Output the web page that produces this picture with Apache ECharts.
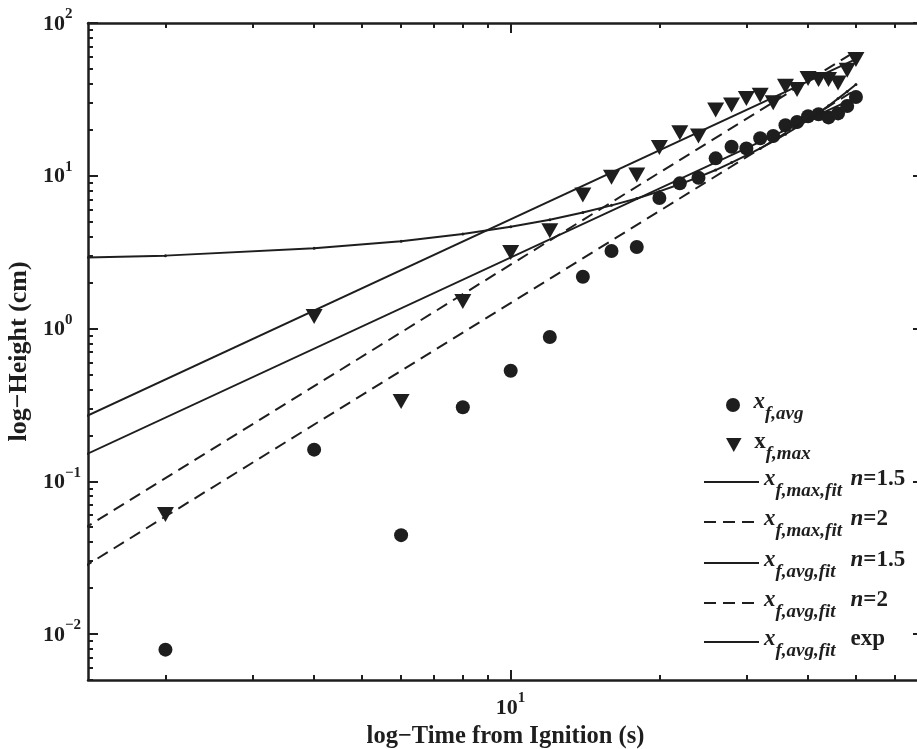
<!DOCTYPE html>
<html><head><meta charset="utf-8">
<script src="https://cdn.jsdelivr.net/npm/echarts@6/dist/echarts.min.js"></script>
<style>html,body{margin:0;padding:0;background:#fff}#c{width:917px;height:749px}</style>
</head><body><div id="c"></div>
<script>
// ---- data ----
const times = [2,4,6,8,10,12,14,16,18,20,22,24,26,28,30,32,34,36,38,40,42,44,46,48,50];
const avgHeight = [0.0079,0.161,0.0444,0.305,0.529,0.879,2.18,3.22,3.42,7.15,8.92,9.7,13.0,15.5,15.1,17.6,18.2,21.4,22.5,24.5,25.3,24.1,25.6,28.6,32.8];
const maxHeight = [0.0605,1.20,0.333,1.50,3.14,4.37,7.48,9.77,10.1,15.3,19.1,18.2,26.9,29.0,32.0,33.7,30.0,38.6,36.7,43.3,42.7,42.7,40.5,49.1,57.6];
const fitTimes = [1, 50];
const maxFit15 = [0.164, 58.0];
const maxFit2 = [0.0262, 65.5];
const avgFit15 = [0.0923, 32.6];
const avgFit2 = [0.0147, 36.7];
const expTimes = [1,2,4,6,8,10,12,14,16,18,20,22,24,26,28,30,32,34,36,38,40,42,44,46,48,50];
const expFit = [2.85,3.0,3.35,3.73,4.15,4.64,5.15,5.75,6.4,7.1,7.9,8.8,9.8,10.9,12.2,13.6,15.1,16.8,18.7,20.8,23.2,25.8,28.7,32.0,35.6,39.6];
const xMajorTicks = [10];
const xMinorTicks = [2,3,4,5,6,7,8,9,20,30,40,50,60];
const yMajorTicks = [0.01,0.1,1,10,100];
const yMinorTicks = [0.005,0.006,0.007,0.008,0.009,0.02,0.03,0.04,0.05,0.06,0.07,0.08,0.09,0.2,0.3,0.4,0.5,0.6,0.7,0.8,0.9,2,3,4,5,6,7,8,9,20,30,40,50,60,70,80,90];
const xTitle = 'log\u2212Time from Ignition (s)';
const yTitle = 'log\u2212Height (cm)';
const seriesNames = ['x_f,avg','x_f,max','x_f,max,fit n=1.5','x_f,max,fit n=2','x_f,avg,fit n=1.5','x_f,avg,fit n=2','x_f,avg,fit exp'];
const legendMain = ['x','x','x','x','x','x','x'];
const legendSub = ['f,avg','f,max','f,max,fit','f,max,fit','f,avg,fit','f,avg,fit','f,avg,fit'];
const legendN = ['','','n','n','n','n',''];
const legendVal = ['','','=1.5','=2','=1.5','=2','exp'];

// ---- style ----
const INK = '#1e1e1e';
const FONT = '"Liberation Serif","Times New Roman",serif';
const XMIN = 1.394, XMAX = 68.35, YMIN = 0.005, YMAX = 100;
const DASH = [12, 7];

function expLabel(v) {
  const e = Math.round(Math.log10(v));
  return '{b|10}{p|' + (e < 0 ? '\u2212' + (-e) : String(e)) + '}{sp| }';
}
const tickRich = {
  b: {fontFamily: FONT, fontWeight: 'bold', fontSize: 22, lineHeight: 22, verticalAlign: 'bottom', color: INK},
  p: {fontFamily: FONT, fontWeight: 'bold', fontSize: 15, lineHeight: 15, verticalAlign: 'top', color: INK},
  sp: {fontSize: 1, lineHeight: 28}
};
const frameLine = {show: true, onZero: false, lineStyle: {color: INK, width: 2.5}};
const noSplit = {show: false};
const blankLabel = (vals) => ({show: true, customValues: vals, formatter: () => '', margin: 0});

function xAx(grid, pos, ticks, len, withLine, withLabel) {
  const a = {
    type: 'log', logBase: 10, gridIndex: grid, position: pos, min: XMIN, max: XMAX,
    axisLine: withLine ? frameLine : {show: false},
    axisTick: {show: true, inside: true, length: len, customValues: ticks, lineStyle: {color: INK, width: 2}},
    axisLabel: withLabel ? {show: true, customValues: xMajorTicks, formatter: expLabel, rich: tickRich, margin: 11, padding: [0,0,4,0]} : blankLabel(ticks),
    splitLine: noSplit
  };
  if (withLabel) {
    a.name = xTitle; a.nameLocation = 'middle'; a.nameGap = 44;
    a.nameTextStyle = {fontFamily: FONT, fontWeight: 'bold', fontSize: 24.5, color: INK};
  }
  return a;
}
function yAx(grid, pos, ticks, len, withLine, withLabel) {
  const a = {
    type: 'log', logBase: 10, gridIndex: grid, position: pos, min: YMIN, max: YMAX,
    axisLine: withLine ? frameLine : {show: false},
    axisTick: {show: true, inside: true, length: len, customValues: ticks, lineStyle: {color: INK, width: 2}},
    axisLabel: withLabel ? {show: true, customValues: yMajorTicks, formatter: expLabel, rich: tickRich, margin: 45, align: 'left', padding: [0,0,4,0]} : blankLabel(ticks),
    splitLine: noSplit
  };
  if (withLabel) {
    a.name = yTitle; a.nameLocation = 'middle'; a.nameGap = 45;
    a.nameTextStyle = {fontFamily: FONT, fontWeight: 'bold', fontSize: 26, color: INK};
  }
  return a;
}

const gridRect = {left: 88, top: 23, width: 835, height: 657, containLabel: false, outerBoundsMode: 'none'};

const legendRich = {
  xi: {fontFamily: FONT, fontWeight: 'bold', fontStyle: 'italic', fontSize: 23, lineHeight: 23, verticalAlign: 'top', color: INK},
  xu: {fontFamily: FONT, fontWeight: 'bold', fontSize: 23, lineHeight: 23, verticalAlign: 'top', color: INK},
  s: {fontFamily: FONT, fontWeight: 'bold', fontStyle: 'italic', fontSize: 19, lineHeight: 19, verticalAlign: 'bottom', color: INK},
  sw: {fontFamily: FONT, fontWeight: 'bold', fontStyle: 'italic', fontSize: 19, lineHeight: 19, verticalAlign: 'bottom', width: 75, color: INK},
  ni: {fontFamily: FONT, fontWeight: 'bold', fontStyle: 'italic', fontSize: 23, lineHeight: 23, verticalAlign: 'top', color: INK},
  v: {fontFamily: FONT, fontWeight: 'bold', fontSize: 23, lineHeight: 23, verticalAlign: 'top', color: INK},
  sp: {fontSize: 1, lineHeight: 33}
};
function legendText(i) {
  const main = '{' + (i === 1 ? 'xu' : 'xi') + '|' + legendMain[i] + '}';
  const hasTail = legendVal[i] !== '';
  const sub = '{' + (hasTail ? 'sw' : 's') + '|' + legendSub[i] + '}';
  let tail = '';
  if (legendN[i]) tail += '{ni|' + legendN[i] + '}';
  if (legendVal[i]) tail += '{v|' + legendVal[i] + '}';
  return main + sub + tail + '{sp| }';
}
const legendCenters = [410, 450, 487, 527, 568, 608, 647];
const legends = seriesNames.map((nm, i) => {
  const isScatter = i < 2;
  const lg = {
    data: [nm], orient: 'vertical', left: isScatter ? 726 : 703, top: legendCenters[i] - 19, padding: 0,
    itemWidth: isScatter ? 31 : 55, itemHeight: 14, selectedMode: false,
    formatter: () => legendText(i),
    textStyle: {rich: legendRich, padding: [5, 0, 0, 0]}
  };
  if (!isScatter) lg.itemStyle = {opacity: 0};
  return lg;
});

const lineSeries = (name, xs, ys, dashed) => ({
  name, type: 'line', xAxisIndex: 0, yAxisIndex: 0,
  data: xs.map((t, k) => [t, ys[k]]), symbol: 'none', clip: true,
  lineStyle: {color: INK, width: 2, type: dashed ? DASH : 'solid'},
  itemStyle: {color: INK}
});

const TRI = 'path://M0,0 L20,0 L10,18 Z';
const option = {
  animation: false,
  backgroundColor: '#fff',
  grid: [Object.assign({}, gridRect), Object.assign({}, gridRect)],
  xAxis: [
    xAx(0, 'bottom', xMajorTicks, 10, true, true),
    xAx(0, 'top', xMajorTicks, 10, true, false),
    xAx(1, 'bottom', xMinorTicks, 5, false, false),
    xAx(1, 'top', xMinorTicks, 5, false, false)
  ],
  yAxis: [
    yAx(0, 'left', yMajorTicks, 10, true, true),
    yAx(0, 'right', yMajorTicks, 10, true, false),
    yAx(1, 'left', yMinorTicks, 5, false, false),
    yAx(1, 'right', yMinorTicks, 5, false, false)
  ],
  legend: legends,
  series: [
    {name: seriesNames[0], type: 'scatter', xAxisIndex: 0, yAxisIndex: 0, symbol: 'circle', symbolSize: 14,
     data: times.map((t, k) => [t, avgHeight[k]]), itemStyle: {color: INK, opacity: 1}},
    {name: seriesNames[1], type: 'scatter', xAxisIndex: 0, yAxisIndex: 0, symbol: TRI, symbolSize: [17, 15],
     data: times.map((t, k) => [t, maxHeight[k]]), itemStyle: {color: INK, opacity: 1}},
    lineSeries(seriesNames[2], fitTimes, maxFit15, false),
    lineSeries(seriesNames[3], fitTimes, maxFit2, true),
    lineSeries(seriesNames[4], fitTimes, avgFit15, false),
    lineSeries(seriesNames[5], fitTimes, avgFit2, true),
    Object.assign(lineSeries(seriesNames[6], expTimes, expFit, false), {symbol: 'circle', symbolSize: 3, showSymbol: true})
  ]
};
const chart = echarts.init(document.getElementById('c'), null, {renderer: 'canvas'});
chart.setOption(option);
</script></body></html>
